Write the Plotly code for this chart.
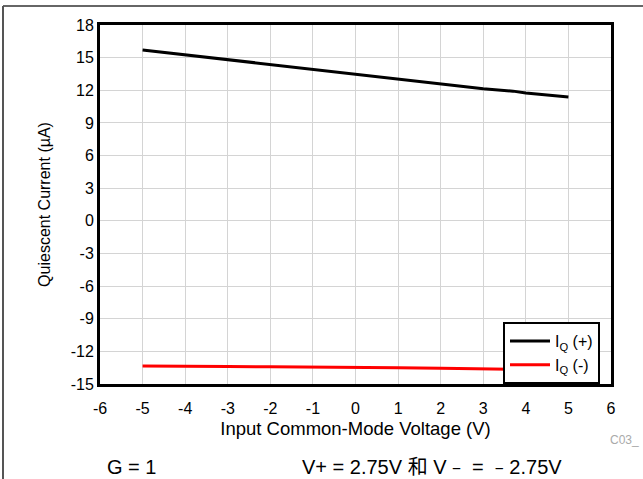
import plotly.graph_objects as go

x_pos = [-5, -4, -3, -2, -1, 0, 1, 2, 3, 3.7, 4, 5]
iq_pos = [15.7, 15.25, 14.8, 14.35, 13.9, 13.45, 13.02, 12.6, 12.15, 11.92, 11.75, 11.38]
x_neg = [-5, -4, -3, -2, -1, 0, 1, 2, 3, 4, 5]
iq_neg = [-13.35, -13.4, -13.4, -13.41, -13.43, -13.46, -13.5, -13.56, -13.6, -13.65, -13.7]

x_ticks = [-6, -5, -4, -3, -2, -1, 0, 1, 2, 3, 4, 5, 6]
y_ticks = [-15, -12, -9, -6, -3, 0, 3, 6, 9, 12, 15, 18]

W, H = 643, 479
L, R, T, B = 100, 611, 25, 384

def px(xp):
    return (xp - L) / (R - L)

def py(yp):
    return (B - yp) / (B - T)

fig = go.Figure()
fig.add_trace(go.Scatter(x=x_pos, y=iq_pos, mode="lines", name="I<sub>Q</sub> (+)",
                         line=dict(color="black", width=3)))
fig.add_trace(go.Scatter(x=x_neg, y=iq_neg, mode="lines", name="I<sub>Q</sub> (-)",
                         line=dict(color="#ff0000", width=3)))

font = "Liberation Sans, Arial, sans-serif"
fig.update_layout(
    width=W, height=H,
    margin=dict(l=L, r=W - R, t=T, b=H - B),
    paper_bgcolor="white", plot_bgcolor="white",
    font=dict(family=font, size=16, color="black"),
    showlegend=True,
    legend=dict(x=px(503), y=0, xanchor="left", yanchor="bottom",
                bordercolor="black", borderwidth=2, bgcolor="white",
                font=dict(size=16), tracegroupgap=0, itemwidth=40),
    xaxis=dict(range=[-6, 6], tickvals=x_ticks, ticktext=[str(v) for v in x_ticks],
               showgrid=True, gridcolor="#d4d4d4", gridwidth=1, zeroline=False,
               showline=True, linecolor="black", linewidth=3, mirror=True,
               ticks="outside", ticklen=8, tickcolor="rgba(0,0,0,0)",
               title=dict(text="Input Common-Mode Voltage (V)", font=dict(size=18.5), standoff=6)),
    yaxis=dict(range=[-15, 18], tickvals=y_ticks, ticktext=[str(v) for v in y_ticks],
               showgrid=True, gridcolor="#d4d4d4", gridwidth=1, zeroline=False,
               showline=True, linecolor="black", linewidth=3, mirror=True,
               ticks="", ticklen=0,
               title=dict(text="Quiescent Current (µA)", font=dict(size=16), standoff=17)),
)

fig.add_shape(type="line", xref="paper", yref="paper", x0=px(3), x1=px(660), y0=py(6), y1=py(6),
              line=dict(color="#333333", width=1.5))
fig.add_shape(type="line", xref="paper", yref="paper", x0=px(3), x1=px(3), y0=py(6), y1=py(500),
              line=dict(color="#555555", width=2))

fig.add_annotation(xref="paper", yref="paper", x=px(608), y=py(440), text="C03_",
                   showarrow=False, xanchor="left", yanchor="middle",
                   font=dict(size=12, color="#aaaaaa"))
fig.add_annotation(xref="paper", yref="paper", x=px(131), y=py(467), text="G = 1",
                   showarrow=False, xanchor="center", yanchor="middle",
                   font=dict(size=20, color="black"))
fig.add_annotation(xref="paper", yref="paper", x=px(432), y=py(467),
                   text="V+ = 2.75V 和 V﹣ = ﹣2.75V",
                   showarrow=False, xanchor="center", yanchor="middle",
                   font=dict(size=20, color="black", family="Liberation Sans, Noto Sans CJK SC, sans-serif"))

fig.write_html("out.html", config={"displayModeBar": False},
               post_script="document.body.style.margin='0';document.body.style.overflow='hidden';")
